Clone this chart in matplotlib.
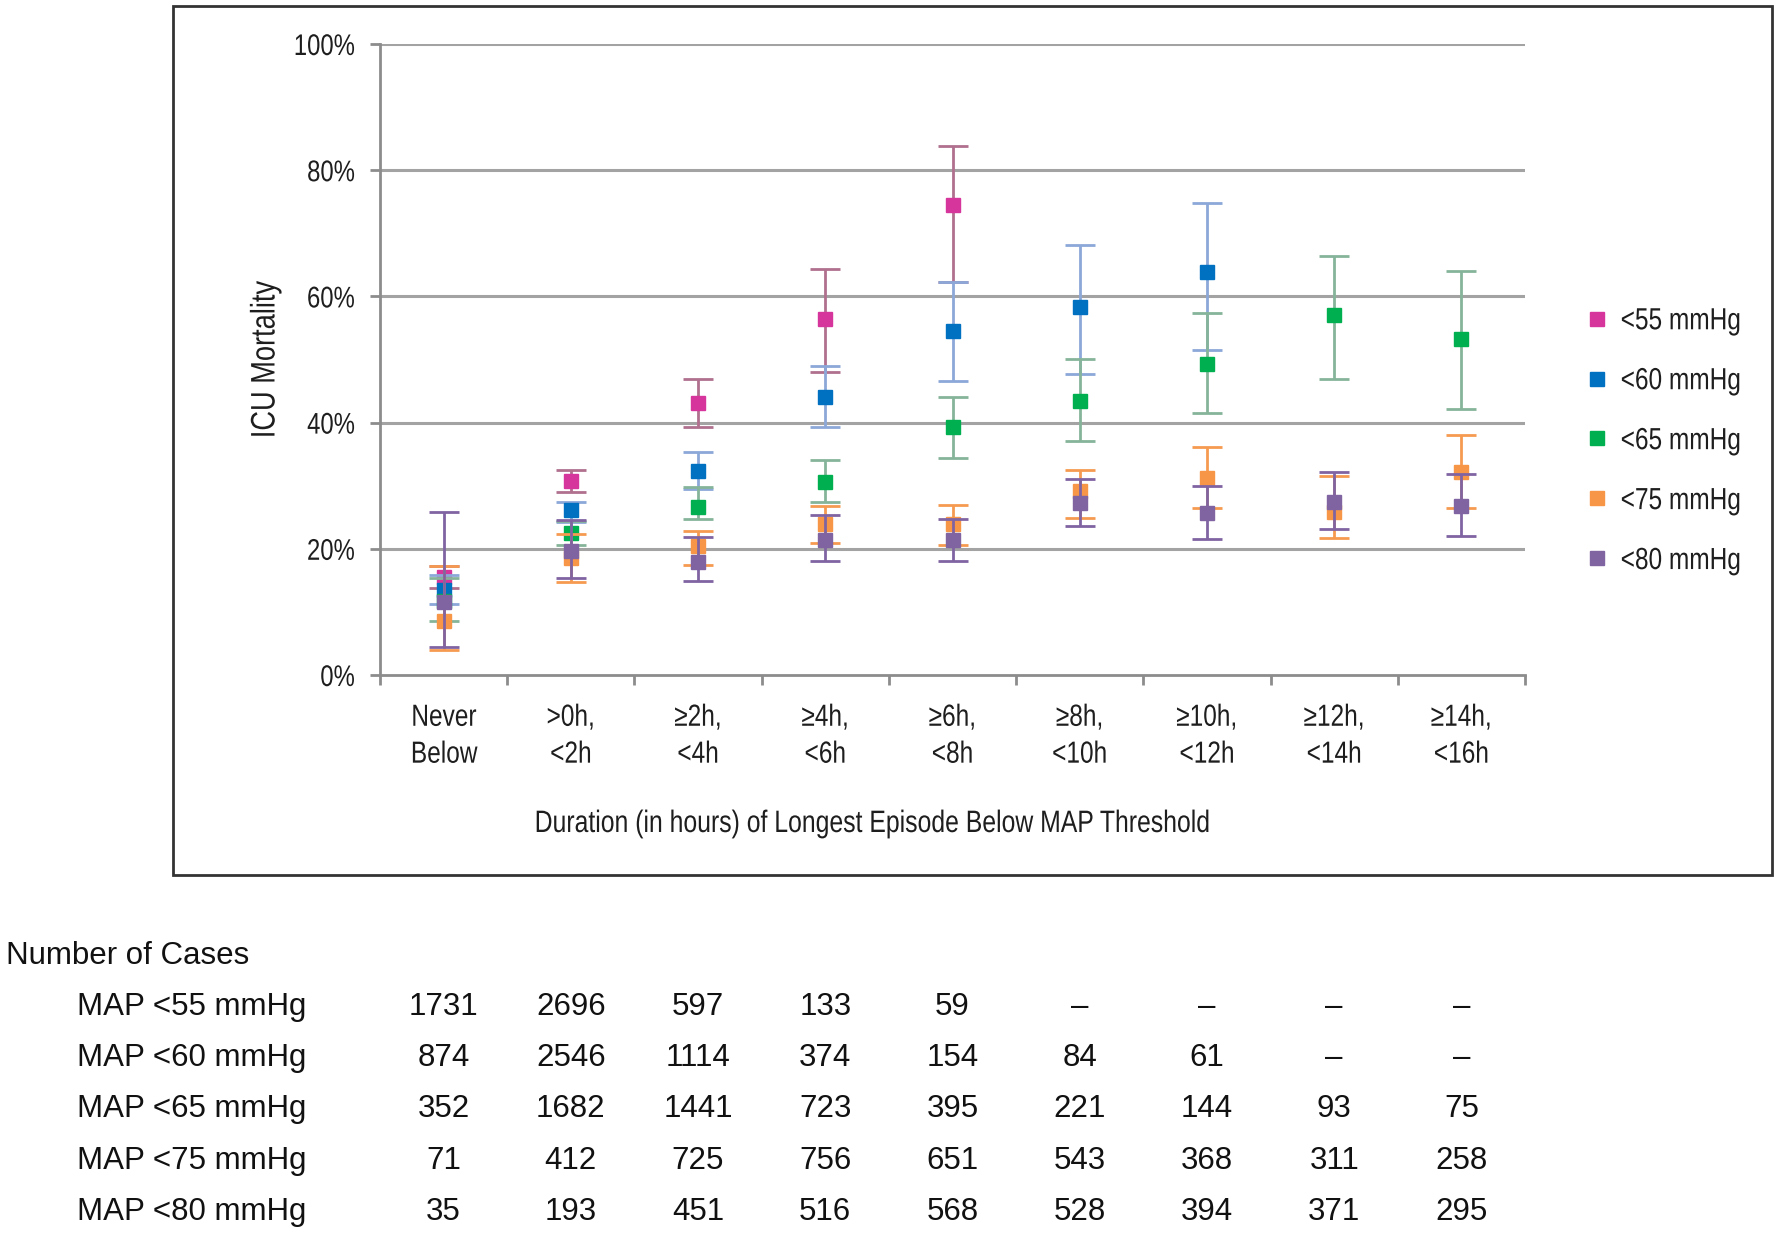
import matplotlib
matplotlib.use("Agg")
import matplotlib.pyplot as plt
from matplotlib.transforms import blended_transform_factory, Affine2D
from matplotlib.lines import Line2D
from matplotlib.patches import Rectangle
from matplotlib.path import Path
from matplotlib import patheffects
import numpy as np

categories = ["Never\nBelow", ">0h,\n<2h", "≥2h,\n<4h", "≥4h,\n<6h", "≥6h,\n<8h",
              "≥8h,\n<10h", "≥10h,\n<12h", "≥12h,\n<14h", "≥14h,\n<16h"]
series_names = ["<55 mmHg", "<60 mmHg", "<65 mmHg", "<75 mmHg", "<80 mmHg"]
yticks = [0, 20, 40, 60, 80, 100]
ytick_labels = ["0%", "20%", "40%", "60%", "80%", "100%"]

# ICU mortality (%) point estimates and CI bounds (None = not shown)
map55_mid = [15.5, 30.7, 43.1, 56.4, 74.5, None, None, None, None]
map55_lo  = [13.8, 29.0, 39.3, 48.0, 62.3, None, None, None, None]
map55_hi  = [17.2, 32.5, 46.9, 64.3, 83.8, None, None, None, None]

map60_mid = [13.5, 26.1, 32.3, 44.1, 54.5, 58.3, 63.9, None, None]
map60_lo  = [11.2, 24.2, 29.5, 39.3, 46.6, 47.7, 51.5, None, None]
map60_hi  = [15.8, 27.4, 35.3, 49.0, 62.3, 68.1, 74.8, None, None]

map65_mid = [11.8, 22.5, 26.6, 30.6, 39.3, 43.4, 49.3, 57.1, 53.2]
map65_lo  = [8.6, 20.6, 24.7, 27.4, 34.4, 37.1, 41.5, 46.9, 42.2]
map65_hi  = [15.3, 24.4, 29.8, 34.1, 44.1, 50.1, 57.4, 66.4, 64.0]

map75_mid = [8.6, 18.5, 20.4, 23.9, 23.9, 29.2, 31.2, 25.8, 32.2]
map75_lo  = [4.0, 14.7, 17.5, 20.9, 20.6, 24.9, 26.5, 21.7, 26.5]
map75_hi  = [17.3, 22.3, 22.8, 26.8, 26.9, 32.5, 36.1, 31.5, 38.0]

map80_mid = [11.6, 19.7, 17.9, 21.4, 21.4, 27.3, 25.7, 27.4, 26.8]
map80_lo  = [4.4, 15.4, 14.9, 18.1, 18.1, 23.6, 21.6, 23.1, 22.0]
map80_hi  = [25.8, 24.5, 21.9, 25.4, 24.8, 31.1, 30.0, 32.2, 31.8]

# Number of cases table
table_title = "Number of Cases"
row_labels = ["MAP <55 mmHg", "MAP <60 mmHg", "MAP <65 mmHg", "MAP <75 mmHg", "MAP <80 mmHg"]
cases55 = ["1731", "2696", "597", "133", "59", "–", "–", "–", "–"]
cases60 = ["874", "2546", "1114", "374", "154", "84", "61", "–", "–"]
cases65 = ["352", "1682", "1441", "723", "395", "221", "144", "93", "75"]
cases75 = ["71", "412", "725", "756", "651", "543", "368", "311", "258"]
cases80 = ["35", "193", "451", "516", "568", "528", "394", "371", "295"]

colors = ["#D6359C", "#0070C0", "#00B050", "#F79646", "#8064A2"]
err_colors = ["#B0708E", "#8CA8D8", "#86B49A", "#F59A50", "#8064A2"]

arial = ["Liberation Sans", "DejaVu Sans"]


class Condense(patheffects.AbstractPathEffect):
    """Horizontally compress text glyphs (narrow font look)."""
    def __init__(self, sx=0.82, anchor="center"):
        super().__init__()
        self.sx = sx
        self.anchor = anchor

    def draw_path(self, renderer, gc, tpath, affine, rgbFace=None):
        v = tpath.vertices
        if tpath.codes is not None and len(v):
            v = v[tpath.codes != Path.CLOSEPOLY]
        if len(v):
            xmin, xmax = v[:, 0].min(), v[:, 0].max()
        else:
            xmin = xmax = 0.0
        cx = {"center": 0.5 * (xmin + xmax), "left": xmin, "right": xmax}[self.anchor]
        t = Affine2D().translate(-cx, 0).scale(self.sx, 1).translate(cx, 0) + affine
        renderer.draw_path(gc, tpath, t, rgbFace)


W, H = 1778, 1236
fig = plt.figure(figsize=(W / 100, H / 100), dpi=100)
fig.patch.set_facecolor("white")

# outer chart frame
fig.patches.append(Rectangle((173 / W, 1 - 875 / H), (1772 - 173) / W, (875 - 6) / H,
                             transform=fig.transFigure, fill=False, edgecolor="#333333",
                             linewidth=2.0, zorder=0))

ax = fig.add_axes([380 / W, 1 - 675 / H, (1525 - 380) / W, (675 - 44) / H])
ax.set_xlim(-0.5, len(categories) - 0.5)
ax.set_ylim(0, 100)

for v in yticks[1:]:
    ax.axhline(v, color="#A3A3A3", linewidth=2.2, zorder=1)

for s in ["top", "right"]:
    ax.spines[s].set_visible(False)
for s in ["left", "bottom"]:
    ax.spines[s].set_color("#8C8C8C")
    ax.spines[s].set_linewidth(2.0)

ax.set_yticks(yticks)
ax.set_yticklabels(ytick_labels, fontfamily=arial, fontsize=21.5, color="#1E1E1E")
ax.tick_params(axis="y", length=7, width=2, color="#8C8C8C", pad=11)
for t in ax.yaxis.get_major_ticks():
    t.label1.set_path_effects([Condense(0.80, "right")])

ax.set_xticks(np.arange(len(categories) + 1) - 0.5)
ax.set_xticklabels([])
ax.tick_params(axis="x", length=7, width=2, color="#8C8C8C", direction="out")
ax.set_xticks(np.arange(len(categories)), minor=True)
ax.set_xticklabels(categories, minor=True, fontfamily=arial, fontsize=22,
                   color="#1E1E1E", linespacing=1.3)
ax.tick_params(axis="x", which="minor", length=0, pad=20)
for t in ax.xaxis.get_minor_ticks():
    t.label1.set_path_effects([Condense(0.80, "center")])

mids = [map55_mid, map60_mid, map65_mid, map75_mid, map80_mid]
los = [map55_lo, map60_lo, map65_lo, map75_lo, map80_lo]
his = [map55_hi, map60_hi, map65_hi, map75_hi, map80_hi]

handles = []
for i, name in enumerate(series_names):
    idx = [j for j, v in enumerate(mids[i]) if v is not None]
    x = np.array(idx, dtype=float)
    y = np.array([mids[i][j] for j in idx])
    lo = np.array([los[i][j] for j in idx])
    hi = np.array([his[i][j] for j in idx])
    ax.errorbar(x, y, yerr=[y - lo, hi - y], fmt="none", ecolor=err_colors[i],
                elinewidth=2.0, capsize=10.5, capthick=2.0, zorder=3 + i)
    ax.plot(x, y, linestyle="none", marker="s", markersize=10.5, color=colors[i],
            markeredgecolor=colors[i], zorder=3 + i)
    handles.append(Line2D([], [], linestyle="none", marker="s", markersize=10,
                          color=colors[i], label=name))

leg = fig.legend(handles=handles, loc="upper left",
                 bbox_to_anchor=(1573 / W, 1 - 291 / H), frameon=False,
                 prop={"family": arial, "size": 22}, labelspacing=0.98,
                 handlelength=0.6, handletextpad=0.45, borderpad=0)
for t in leg.get_texts():
    t.set_color("#1E1E1E")
    t.set_path_effects([Condense(0.80, "left")])

fig.text(266 / W, 1 - 360 / H, "ICU Mortality", rotation=90, ha="center", va="center",
         fontfamily=arial, fontsize=24.5, color="#1E1E1E",
         path_effects=[Condense(0.80, "center")])
fig.text(873 / W, 1 - 824 / H, "Duration (in hours) of Longest Episode Below MAP Threshold",
         ha="center", va="center", fontfamily=arial, fontsize=22.3, color="#1E1E1E",
         path_effects=[Condense(0.80, "center")])

# table of number of cases
fig.text(6 / W, 1 - 956 / H, table_title, ha="left", va="center",
         fontfamily=arial, fontsize=22.5, color="#111111")
trans = blended_transform_factory(ax.transData, fig.transFigure)
row_y = [1007, 1058, 1109, 1161, 1212]
rows = [cases55, cases60, cases65, cases75, cases80]
for r, (lab, vals) in enumerate(zip(row_labels, rows)):
    yy = 1 - row_y[r] / H
    fig.text(77 / W, yy, lab, ha="left", va="center", fontfamily=arial,
             fontsize=22.5, color="#111111")
    for j, v in enumerate(vals):
        ax.text(j, yy, v, transform=trans, ha="center", va="center",
                fontfamily=arial, fontsize=22.5, color="#111111", clip_on=False)

fig.savefig("out.png", dpi=100, facecolor="white")
